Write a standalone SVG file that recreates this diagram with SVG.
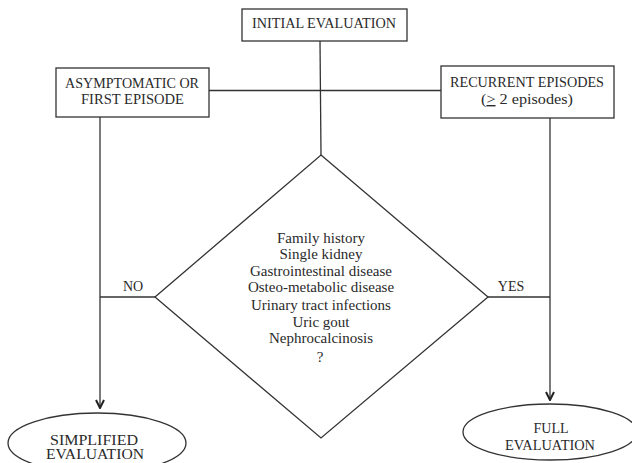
<svg xmlns="http://www.w3.org/2000/svg" width="632" height="463" viewBox="0 0 632 463">
<style>
.box{fill:#fff;stroke:#333;stroke-width:1.3}
.ln{fill:none;stroke:#333;stroke-width:1.3}
.t{font-family:"Liberation Serif","DejaVu Serif",serif;font-size:14px;fill:#2a2a2a;text-anchor:middle}
.d{font-size:15px}
</style>
<defs>
<marker id="arr" viewBox="0 0 10 10" refX="9" refY="5" markerWidth="10" markerHeight="10" markerUnits="userSpaceOnUse" orient="auto">
<path d="M1,1 L9,5 L1,9" fill="none" stroke="#222" stroke-width="2"/>
</marker>
</defs>
<rect width="632" height="463" fill="#fff"/>
<g id="connectors">
<line class="ln" x1="320" y1="41" x2="321" y2="155"/>
<line class="ln" x1="209" y1="90.5" x2="441" y2="90.5"/>
<line class="ln" x1="100" y1="117" x2="100" y2="408" marker-end="url(#arr)"/>
<line class="ln" x1="550" y1="118" x2="550" y2="400" marker-end="url(#arr)"/>
<line class="ln" x1="100" y1="297" x2="155" y2="297"/>
<line class="ln" x1="488" y1="297" x2="550" y2="297"/>
<text class="t" x="133" y="291">NO</text>
<text class="t" x="511" y="291">YES</text>
</g>
<g id="initial">
<rect class="box" x="242" y="9" width="165" height="32"/>
<text class="t" x="324" y="28" textLength="144" lengthAdjust="spacingAndGlyphs">INITIAL EVALUATION</text>
</g>
<g id="asymptomatic">
<rect class="box" x="56" y="68" width="153" height="49"/>
<text class="t" x="132" y="88" textLength="134" lengthAdjust="spacingAndGlyphs">ASYMPTOMATIC OR</text>
<text class="t" x="132.5" y="104" textLength="103" lengthAdjust="spacingAndGlyphs">FIRST EPISODE</text>
</g>
<g id="recurrent">
<rect class="box" x="441" y="66" width="173" height="52"/>
<text class="t" x="527" y="87" textLength="154" lengthAdjust="spacingAndGlyphs">RECURRENT EPISODES</text>
<text class="t" x="527" y="104" textLength="92" lengthAdjust="spacingAndGlyphs">(<tspan text-decoration="underline">&gt;</tspan> 2 episodes)</text>
</g>
<g id="criteria">
<polygon class="box" points="321,155 488,297 321,438 155,297"/>
<text class="t d" x="321" y="243">Family history</text>
<text class="t d" x="321" y="259">Single kidney</text>
<text class="t d" x="321" y="276">Gastrointestinal disease</text>
<text class="t d" x="321" y="292">Osteo-metabolic disease</text>
<text class="t d" x="321" y="310">Urinary tract infections</text>
<text class="t d" x="321" y="327">Uric gout</text>
<text class="t d" x="321" y="343">Nephrocalcinosis</text>
<text class="t d" x="320" y="362">?</text>
</g>
<g id="simplified">
<ellipse class="box" cx="97" cy="443" rx="89" ry="30"/>
<text class="t" x="94" y="445" textLength="88" lengthAdjust="spacingAndGlyphs">SIMPLIFIED</text>
<text class="t" x="95" y="459" textLength="98" lengthAdjust="spacingAndGlyphs">EVALUATION</text>
</g>
<g id="full">
<ellipse class="box" cx="550" cy="432" rx="87" ry="28"/>
<text class="t" x="551" y="433" textLength="35" lengthAdjust="spacingAndGlyphs">FULL</text>
<text class="t" x="550" y="450" textLength="90" lengthAdjust="spacingAndGlyphs">EVALUATION</text>
</g>
</svg>
